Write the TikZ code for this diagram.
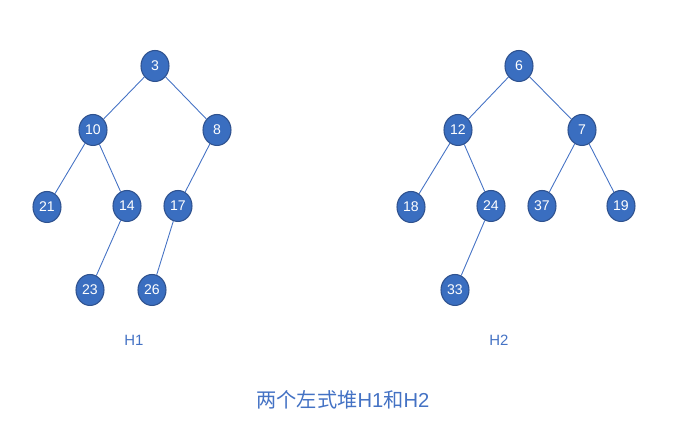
\documentclass[tikz,border=0pt]{standalone}
\usepackage{fontspec}
\setmainfont{Liberation Sans}
\newfontfamily\cjk{Noto Sans CJK SC}
\usetikzlibrary{shapes.geometric}
\definecolor{heapfill}{HTML}{3A6EC0}
\definecolor{heapline}{HTML}{2F528F}
\definecolor{heapedge}{HTML}{4472C4}

\begin{document}
\begin{tikzpicture}[x=0.02cm, y=-0.02cm,
    heapnode/.style={ellipse, fill=heapfill, draw=heapline, line width=0.6pt,
        minimum width=0.56cm, minimum height=0.62cm, inner sep=0pt,
        text=white, font=\fontsize{8}{9}\selectfont},
    heaplabel/.style={text=heapedge, font=\fontsize{8.5}{10}\selectfont},
    edge/.style={draw=heapedge, line width=0.5pt}]
    \useasboundingbox (0,0) rectangle (698,428);

    % H1
    \node[heapnode] (a3) at (155,66) {3};
    \node[heapnode] (a10) at (93,130) {10};
    \node[heapnode] (a8) at (217,130) {8};
    \node[heapnode] (a21) at (47,207) {21};
    \node[heapnode] (a14) at (127,206) {14};
    \node[heapnode] (a17) at (178,206) {17};
    \node[heapnode] (a23) at (90,290) {23};
    \node[heapnode] (a26) at (152,290) {26};
    \node[heaplabel] (h1) at (134,340) {H1};

    \draw[edge] (a3) -- (a10);
    \draw[edge] (a3) -- (a8);
    \draw[edge] (a10) -- (a21);
    \draw[edge] (a10) -- (a14);
    \draw[edge] (a8) -- (a17);
    \draw[edge] (a14) -- (a23);
    \draw[edge] (a17) -- (a26);

    % H2
    \node[heapnode] (b6) at (519,66) {6};
    \node[heapnode] (b12) at (458,130) {12};
    \node[heapnode] (b7) at (582,130) {7};
    \node[heapnode] (b18) at (411,207) {18};
    \node[heapnode] (b24) at (491,206) {24};
    \node[heapnode] (b37) at (542,206) {37};
    \node[heapnode] (b19) at (621,206) {19};
    \node[heapnode] (b33) at (455,290) {33};
    \node[heaplabel] (h2) at (499,340) {H2};

    \draw[edge] (b6) -- (b12);
    \draw[edge] (b6) -- (b7);
    \draw[edge] (b12) -- (b18);
    \draw[edge] (b12) -- (b24);
    \draw[edge] (b7) -- (b37);
    \draw[edge] (b7) -- (b19);
    \draw[edge] (b24) -- (b33);

    % Caption
    \node[text=heapedge, font=\fontsize{11.5}{13}\selectfont] (title) at (343,400) {{\cjk 两个左式堆}H1{\cjk 和}H2};
\end{tikzpicture}
\end{document}
